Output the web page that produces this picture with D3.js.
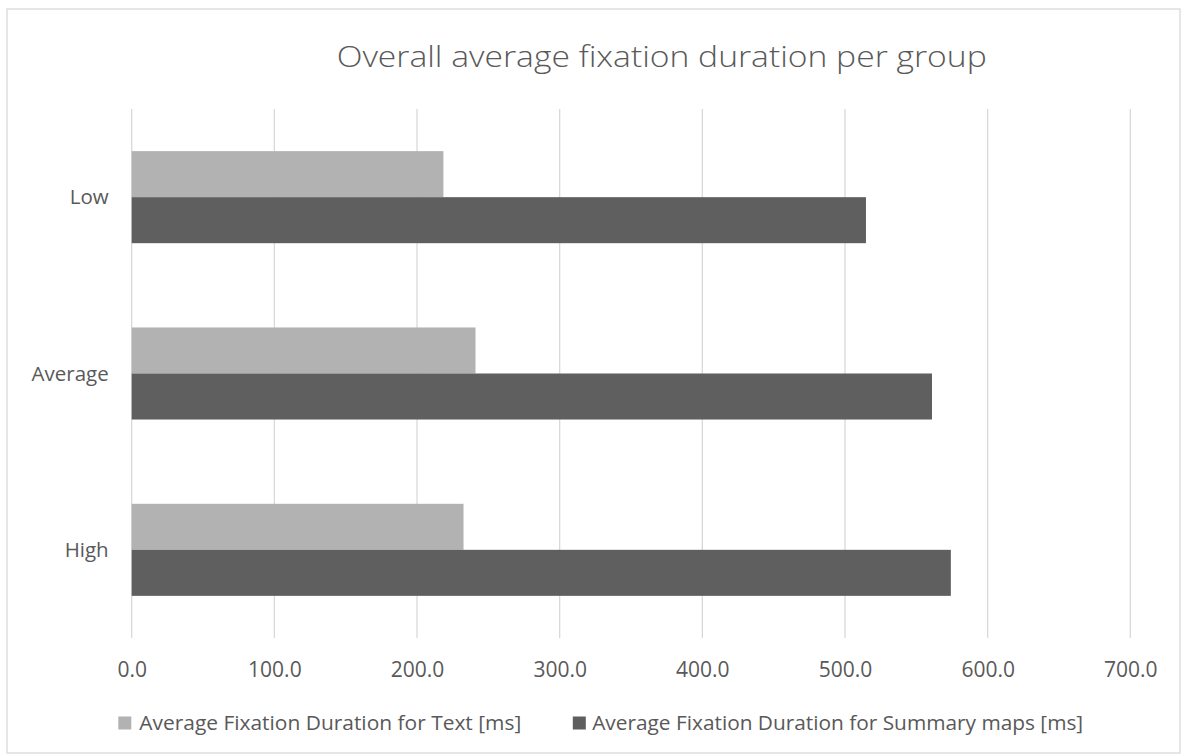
<!DOCTYPE html>
<html>
<head>
<meta charset="utf-8">
<script src="https://cdn.jsdelivr.net/npm/d3@7"></script>
<style>
  html, body { margin: 0; padding: 0; background: #fff; }
  svg { display: block; }
  text { font-family: "Open Sans", "Liberation Sans", sans-serif; fill: #595959; }
</style>
</head>
<body>
<svg id="chart" width="1181" height="754"></svg>
<script>
// Chart data
const title = "Overall average fixation duration per group";
const categories = ["Low", "Average", "High"];
const seriesNames = [
  "Average Fixation Duration for Text [ms]",
  "Average Fixation Duration for Summary maps [ms]"
];
const textValues = [218.5, 241.0, 232.6];
const summaryValues = [514.7, 561.0, 574.2];
const xTicks = [0, 100, 200, 300, 400, 500, 600, 700];
const seriesColors = ["#b2b2b2", "#5f5f5f"];

const svg = d3.select("#chart");
const W = 1181, H = 754;

// Outer chart frame
svg.append("rect")
  .attr("x", 7).attr("y", 9)
  .attr("width", W - 8).attr("height", H - 10)
  .attr("fill", "#fff")
  .attr("stroke", "#d9d9d9").attr("stroke-width", 1.3);

const plot = { left: 131.7, right: 1130.3, top: 109, bottom: 638 };

const x = d3.scaleLinear().domain([0, 700]).range([plot.left, plot.right]);
const gap = 0.478;
const y = d3.scaleBand().domain(categories)
  .range([plot.top, plot.bottom])
  .paddingInner(gap).paddingOuter(gap / 2);
const ySub = d3.scaleBand().domain([0, 1]).range([0, y.bandwidth()]);

// Vertical gridlines
svg.append("g").selectAll("line").data(xTicks).join("line")
  .attr("x1", d => x(d)).attr("x2", d => x(d))
  .attr("y1", plot.top).attr("y2", plot.bottom)
  .attr("stroke", "#d9d9d9").attr("stroke-width", 1.3);

// Bars
const rows = categories.map((c, i) => ({ cat: c, vals: [textValues[i], summaryValues[i]] }));
const groups = svg.append("g").selectAll("g").data(rows).join("g")
  .attr("transform", d => `translate(0,${y(d.cat)})`);
groups.selectAll("rect").data(d => d.vals.map((v, s) => ({ v, s }))).join("rect")
  .attr("x", x(0))
  .attr("y", d => ySub(d.s))
  .attr("width", d => x(d.v) - x(0))
  .attr("height", ySub.bandwidth())
  .attr("fill", d => seriesColors[d.s]);

// Fit a text element to a given width
function fitWidth(sel, width) {
  const node = sel.node();
  const w = node.getComputedTextLength();
  if (w > 0) sel.attr("textLength", width).attr("lengthAdjust", "spacingAndGlyphs");
}

// X axis tick labels
const xAxis = d3.axisBottom(x).tickValues(xTicks).tickFormat(d3.format(".1f")).tickSize(0).tickPadding(0);
const gx = svg.append("g").attr("transform", `translate(0,${plot.bottom})`).call(xAxis);
gx.select(".domain").remove();
gx.selectAll("text")
  .attr("dy", null).attr("y", 38.5)
  .style("font-size", "21px").style("fill", "#595959")
  .attr("font-family", null);

// Category labels
const yAxis = d3.axisLeft(y).tickSize(0).tickPadding(0);
const gy = svg.append("g").attr("transform", `translate(108.7,0)`).call(yAxis);
gy.select(".domain").remove();
gy.selectAll("text")
  .attr("dy", null).attr("x", 0).attr("y", 7)
  .style("font-size", "20.5px").style("fill", "#595959")
  .attr("font-family", null);

// Title
const t = svg.append("text")
  .attr("x", 336.7).attr("y", 66.5)
  .style("font-size", "30px").style("font-weight", 300)
  .text(title);
fitWidth(t, 650);

// Legend
const legend = [
  { name: seriesNames[0], color: seriesColors[0], sx: 118.3, tx: 139.3, tw: 382 },
  { name: seriesNames[1], color: seriesColors[1], sx: 572.8, tx: 592.2, tw: 491 }
];
const lg = svg.append("g");
legend.forEach(l => {
  lg.append("rect")
    .attr("x", l.sx).attr("y", 716.5)
    .attr("width", 13).attr("height", 13)
    .attr("fill", l.color);
  const lt = lg.append("text")
    .attr("x", l.tx).attr("y", 729.5)
    .style("font-size", "20px")
    .text(l.name);
  fitWidth(lt, l.tw);
});
</script>
</body>
</html>
